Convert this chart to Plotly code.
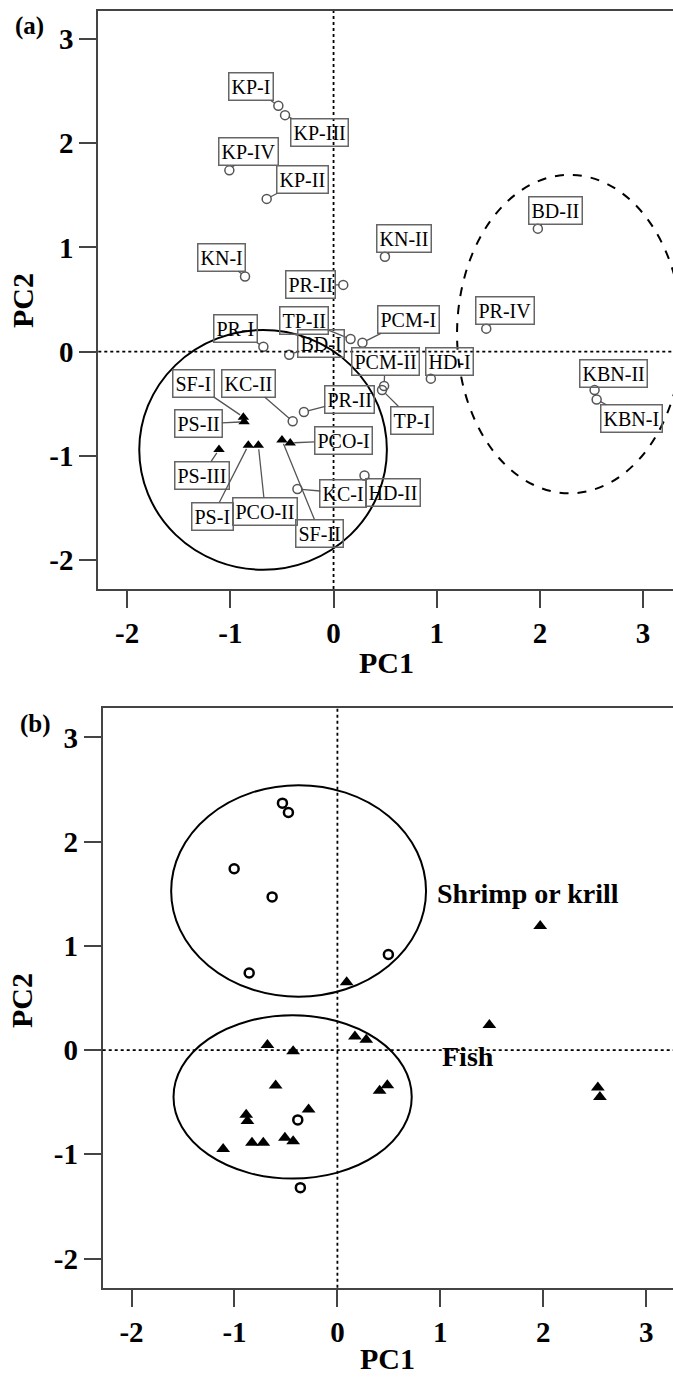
import plotly.graph_objects as go

# ---------------- data ----------------
tick_vals = [-2, -1, 0, 1, 2, 3]
tick_text = ["-2", "-1", "0", "1", "2", "3"]

# Panel (a): labelled scores
a_labels = ["KP-I", "KP-III", "KP-IV", "KP-II", "KN-I", "KN-II", "PR-II", "TP-II", "PCM-I",
            "PR-I", "BD-I", "PCM-II", "TP-I", "HD-I", "PR-II", "KC-II", "KC-I", "HD-II",
            "BD-II", "PR-IV", "KBN-II", "KBN-I",
            "SF-I", "PS-II", "PS-III", "PS-I", "PCO-II", "SF-II", "PCO-I"]
a_pc1 = [-0.535, -0.47, -1.01, -0.648, -0.858, 0.498, 0.094, 0.165, 0.28,
         -0.68, -0.43, 0.49, 0.47, 0.943, -0.287, -0.396, -0.35, 0.30,
         1.98, 1.48, 2.53, 2.55,
         -0.874, -0.867, -1.11, -0.826, -0.729, -0.50, -0.42]
a_pc2 = [2.36, 2.27, 1.74, 1.466, 0.72, 0.91, 0.64, 0.12, 0.085,
         0.046, -0.03, -0.33, -0.37, -0.26, -0.58, -0.67, -1.32, -1.19,
         1.18, 0.22, -0.37, -0.46,
         -0.63, -0.675, -0.94, -0.90, -0.90, -0.85, -0.877]
a_group = ["o"] * 22 + ["t"] * 7

# Panel (b): scores grouped by prey type
b_circ_pc1 = [-0.534, -0.476, -1.003, -0.634, 0.495, -0.857, -0.385, -0.36]
b_circ_pc2 = [2.37, 2.28, 1.74, 1.47, 0.917, 0.74, -0.67, -1.32]
b_tri_pc1 = [0.09, 0.17, 0.28, -0.68, -0.43, -0.60, 0.485, 0.41, -0.28, -0.886,
             -0.874, -0.51, -0.43, -0.83, -0.72, -1.11, 1.97, 1.476, 2.53, 2.55]
b_tri_pc2 = [0.65, 0.13, 0.10, 0.05, -0.01, -0.34, -0.337, -0.39, -0.57, -0.62,
             -0.68, -0.84, -0.875, -0.89, -0.89, -0.95, 1.19, 0.24, -0.36, -0.45]

# ---------------- styling (label box offsets in px) ----------------
a_offsets = [(-27, -19), (34, 17), (19, -19), (36, -19), (-24, -19), (19, -18), (-33, 0),
             (-47, -19), (46, -23), (-28, -18), (32, -11), (1, -24), (30, 30), (19, -17),
             (46, -12), (-44, -38), (46, 4), (28, 17), (18, -18), (19, -18), (19, -17),
             (35, 19), (-50, -34), (-46, 2), (-17, 26), (-36, 71), (7, 66), (38, 93), (53, -2)]

FONT = "Liberation Serif, Times New Roman, serif"
AXC = "#444"

fig = go.Figure()

# panel (a)
ox = [x for x, g in zip(a_pc1, a_group) if g == "o"]
oy = [y for y, g in zip(a_pc2, a_group) if g == "o"]
tx = [x for x, g in zip(a_pc1, a_group) if g == "t"]
ty = [y for y, g in zip(a_pc2, a_group) if g == "t"]
fig.add_trace(go.Scatter(x=ox, y=oy, mode="markers", xaxis="x", yaxis="y",
                         marker=dict(symbol="circle-open", size=9, color="#555",
                                     line=dict(width=1.5, color="#555")),
                         showlegend=False))
fig.add_trace(go.Scatter(x=tx, y=ty, mode="markers", xaxis="x", yaxis="y",
                         marker=dict(symbol="triangle-up", size=10, color="black"),
                         showlegend=False))

# panel (b)
fig.add_trace(go.Scatter(x=b_circ_pc1, y=b_circ_pc2, mode="markers", xaxis="x2", yaxis="y2",
                         marker=dict(symbol="circle-open", size=9, color="black",
                                     line=dict(width=2.5, color="black")),
                         showlegend=False))
fig.add_trace(go.Scatter(x=b_tri_pc1, y=b_tri_pc2, mode="markers", xaxis="x2", yaxis="y2",
                         marker=dict(symbol="triangle-up", size=12, color="black"),
                         showlegend=False))

axis_common = dict(range=[-2.28, 3.28], tickvals=tick_vals, ticktext=tick_text,
                   showgrid=False, zeroline=False, showline=True, linecolor=AXC, linewidth=2,
                   ticks="outside", ticklen=17, tickwidth=2, tickcolor=AXC,
                   tickfont=dict(family=FONT, size=29, color="black", weight="bold"))

fig.update_layout(
    width=673, height=1378, margin=dict(l=0, r=0, t=0, b=0),
    paper_bgcolor="white", plot_bgcolor="white",
    xaxis=dict(domain=[98.3 / 673, 1], anchor="y", mirror=True, **axis_common),
    yaxis=dict(domain=[1 - 589 / 1378, 1 - 11 / 1378], anchor="x", **axis_common),
    xaxis2=dict(domain=[102.7 / 673, 1], anchor="y2", mirror=True, **axis_common),
    yaxis2=dict(domain=[1 - 1287.7 / 1378, 1 - 708.3 / 1378], anchor="x2", **axis_common),
)
fig.layout.yaxis.range = [-2.28, 3.27]
fig.layout.xaxis.range = [-2.28, 3.29]
fig.layout.xaxis2.range = [-2.28, 3.26]

shapes = []
for xr, yr in (("x", "y"), ("x2", "y2")):
    shapes.append(dict(type="line", xref=xr, yref=yr + " domain", x0=0, x1=0, y0=0, y1=1,
                       line=dict(color="black", width=1.8, dash="dot")))
    shapes.append(dict(type="line", xref=xr + " domain", yref=yr, x0=0, x1=1, y0=0, y1=0,
                       line=dict(color="black", width=1.8, dash="dot")))
# group ellipses
shapes.append(dict(type="circle", xref="x", yref="y", x0=-1.883, x1=0.517, y0=-2.095, y1=0.207,
                   line=dict(color="black", width=2)))
shapes.append(dict(type="circle", xref="x", yref="y", x0=1.197, x1=3.379, y0=-1.361, y1=1.697,
                   line=dict(color="black", width=2, dash="dash")))
shapes.append(dict(type="circle", xref="x2", yref="y2", x0=-1.615, x1=0.861, y0=0.512, y1=2.542,
                   line=dict(color="black", width=2)))
shapes.append(dict(type="circle", xref="x2", yref="y2", x0=-1.592, x1=0.722, y0=-1.233, y1=0.335,
                   line=dict(color="black", width=2)))
fig.update_layout(shapes=shapes)

ann = []
for lab, x, y, (dx, dy) in zip(a_labels, a_pc1, a_pc2, a_offsets):
    ann.append(dict(x=x, y=y, xref="x", yref="y", text=lab, showarrow=True, ax=dx, ay=dy,
                    arrowhead=0, arrowwidth=1.3, arrowcolor="#555", standoff=4,
                    bordercolor="#666", borderwidth=1.5, borderpad=2, bgcolor="rgba(0,0,0,0)",
                    font=dict(family=FONT, size=20, color="black")))

bold = dict(family=FONT, color="black", weight="bold")
ann += [
    dict(x=29, y=26, text="(a)", font=dict(size=25, **bold)),
    dict(x=35, y=724, text="(b)", font=dict(size=25, **bold)),
    dict(x=386, y=662, text="PC1", font=dict(size=30, **bold)),
    dict(x=388, y=1358, text="PC1", font=dict(size=30, **bold)),
    dict(x=22, y=301, text="PC2", textangle=-90, font=dict(size=30, **bold)),
    dict(x=22, y=1001, text="PC2", textangle=-90, font=dict(size=30, **bold)),
    dict(x=528, y=893, text="Shrimp or krill", font=dict(size=28, **bold)),
    dict(x=468, y=1056, text="Fish", font=dict(size=28, **bold)),
]
for a in ann[len(a_labels):]:
    a.update(xref="paper", yref="paper", showarrow=False, xanchor="center", yanchor="middle")
    a["x"] = a["x"] / 673
    a["y"] = 1 - a["y"] / 1378
fig.update_layout(annotations=ann)

fig.write_html("out.html")
